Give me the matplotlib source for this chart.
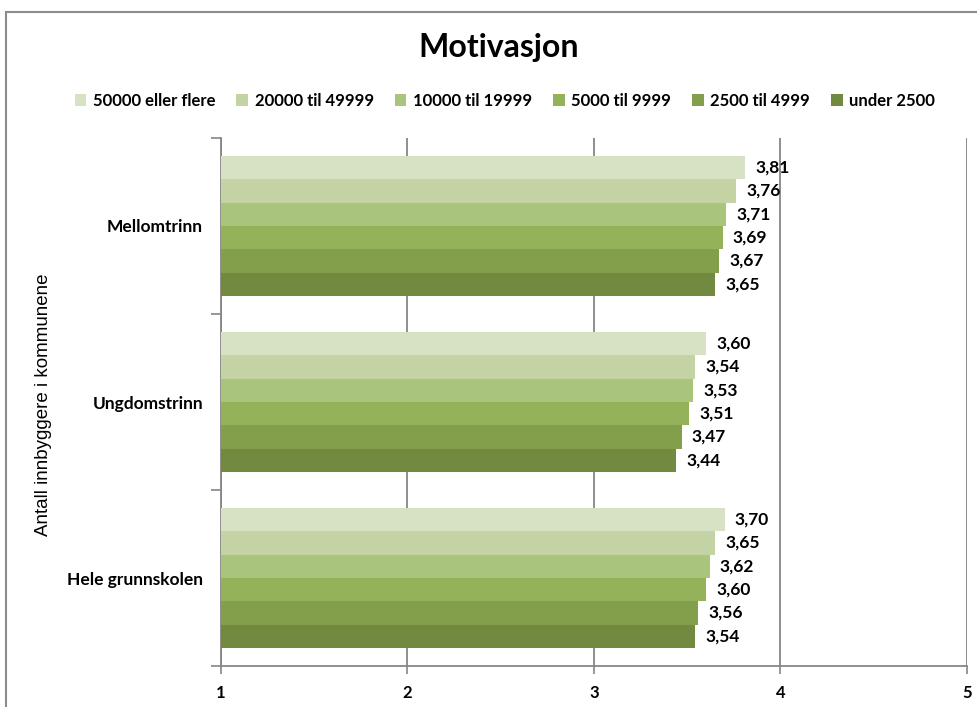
import matplotlib
matplotlib.use("Agg")
import matplotlib.pyplot as plt
from matplotlib.patches import Rectangle
import numpy as np

plt.rcParams['font.family'] = ['Lato', 'DejaVu Sans']

categories = ["Mellomtrinn", "Ungdomstrinn", "Hele grunnskolen"]
series_names = ["50000 eller flere", "20000 til 49999", "10000 til 19999",
                "5000 til 9999", "2500 til 4999", "under 2500"]
values = {
    "50000 eller flere": [3.81, 3.60, 3.70],
    "20000 til 49999": [3.76, 3.54, 3.65],
    "10000 til 19999": [3.71, 3.53, 3.62],
    "5000 til 9999": [3.69, 3.51, 3.60],
    "2500 til 4999": [3.67, 3.47, 3.56],
    "under 2500": [3.65, 3.44, 3.54],
}
colors = ["#d7e1c4", "#c3d3a4", "#a9c47b", "#94b25a", "#839f4c", "#718a3f"]
xticks = [1, 2, 3, 4, 5]

fig = plt.figure(figsize=(9.78, 7.07), dpi=100)
ax = fig.add_axes([221/978, 1-666/707, (967-221)/978, (666-138)/707])

n = len(series_names)
h = 0.1326
ycent = np.arange(len(categories))[::-1]  # Mellomtrinn at top
for i, name in enumerate(series_names):
    off = (2.5 - i) * h
    vals = values[name]
    ys = ycent + off
    ax.barh(ys, np.array(vals) - 1, left=1, height=h, color=colors[i],
            label=name, zorder=3, linewidth=0)
    for y, v in zip(ys, vals):
        ax.text(v + 0.055, y, f"{v:.2f}".replace(".", ","), va="center", ha="left",
                fontsize=12.5, fontweight="bold", zorder=4)

ax.set_xlim(1, 5)
ax.set_ylim(-0.5, len(categories) - 0.5)
ax.set_xticks(xticks)
ax.set_xticklabels([str(t) for t in xticks], fontsize=12, fontweight="bold")
ax.set_yticks(ycent)
ax.set_yticklabels(categories, fontsize=12.5, fontweight="bold")
ax.set_yticks(np.arange(-0.5, len(categories), 1), minor=True)
ax.tick_params(axis='y', which='major', length=0, pad=13)
ax.tick_params(axis='y', which='minor', length=7, width=1.2, color="#868686", direction='out')
ax.tick_params(axis='x', which='major', length=6, width=1.2, color="#868686", direction='out', pad=8)
ax.grid(axis='x', color="#868686", linewidth=1.3, zorder=0)
for s in ['top', 'right']:
    ax.spines[s].set_visible(False)
for s in ['left', 'bottom']:
    ax.spines[s].set_color("#868686")
    ax.spines[s].set_linewidth(1.3)

fig.text(44/978, 1-405/707, "Antall innbyggere i kommunene", rotation=90,
         ha="center", va="center", fontsize=13.5, family=["Liberation Sans", "DejaVu Sans"])

fig.text(499/978, 1-48/707, "Motivasjon", ha="center", va="center",
         fontsize=23, fontweight="bold")

handles, labels = ax.get_legend_handles_labels()
fig.legend(handles, labels, loc="center", bbox_to_anchor=(505/978, 1-101/707),
           ncol=6, frameon=False, handlelength=0.7, handleheight=0.7,
           handletextpad=0.4, columnspacing=1.25,
           prop={'size': 12, 'weight': 'bold'})

fig.add_artist(Rectangle((6/978, -0.05), 1.0, (1-12/707) + 0.05,
                         transform=fig.transFigure, fill=False,
                         edgecolor="#8c8c8c", linewidth=1.5))

fig.savefig("out.png", dpi=100)
